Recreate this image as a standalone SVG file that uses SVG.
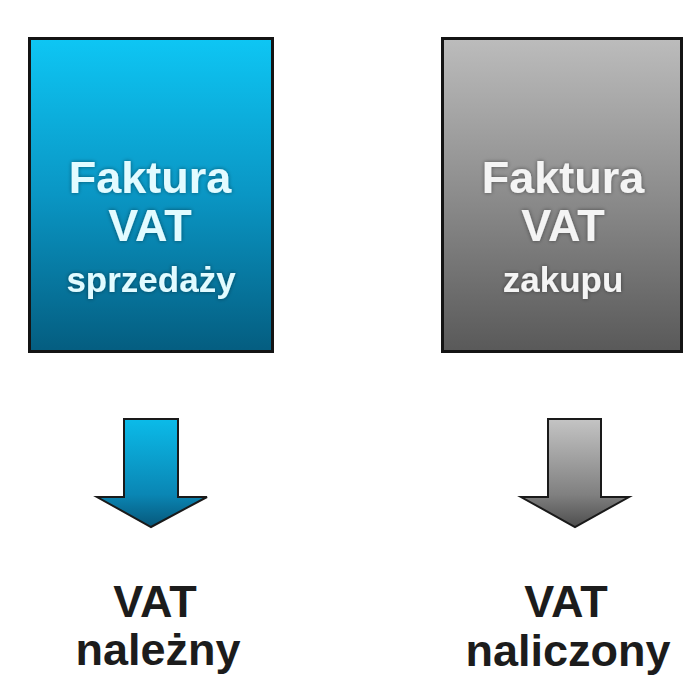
<svg xmlns="http://www.w3.org/2000/svg" width="683" height="677" viewBox="0 0 683 677">
<defs>
<linearGradient id="gBlue" x1="0" y1="0" x2="0" y2="1">
<stop offset="0" stop-color="#0ec6f4"/>
<stop offset="0.5" stop-color="#0a96c4"/>
<stop offset="1" stop-color="#045d80"/>
</linearGradient>
<linearGradient id="gGray" x1="0" y1="0" x2="0" y2="1">
<stop offset="0" stop-color="#bcbcbc"/>
<stop offset="0.5" stop-color="#8c8c8c"/>
<stop offset="1" stop-color="#595959"/>
</linearGradient>
<linearGradient id="gBlueArrow" x1="0" y1="0" x2="0" y2="1">
<stop offset="0" stop-color="#0bbbe9"/>
<stop offset="0.7" stop-color="#0a86b4"/>
<stop offset="1" stop-color="#07577a"/>
</linearGradient>
<linearGradient id="gGrayArrow" x1="0" y1="0" x2="0" y2="1">
<stop offset="0" stop-color="#c4c4c4"/>
<stop offset="0.7" stop-color="#808080"/>
<stop offset="1" stop-color="#4e4e4e"/>
</linearGradient>
<filter id="glow" x="-10%" y="-20%" width="120%" height="140%">
<feGaussianBlur in="SourceAlpha" stdDeviation="2"/>
<feComponentTransfer><feFuncA type="linear" slope="0.45"/></feComponentTransfer>
<feMerge><feMergeNode/><feMergeNode in="SourceGraphic"/></feMerge>
</filter>
</defs>
<style>
.box{stroke:#141414;stroke-width:3}
.arrow{stroke:#1a1a1a;stroke-width:2;stroke-linejoin:miter}
.t{font-family:"Liberation Sans",Arial,sans-serif;font-weight:bold;text-anchor:middle}
.big{font-size:45px}
.small{font-size:35px}
.lb{fill:#e2fbff}
.lg{fill:#f4f4f4}
.dark{fill:#1c1c1c;font-size:45px}
</style>
<rect width="683" height="677" fill="#ffffff"/>
<g id="faktura-sprzedazy">
<rect class="box" x="29.5" y="38.5" width="243" height="313" fill="url(#gBlue)"/>
<g filter="url(#glow)">
<text class="t big lb" x="150" y="193">Faktura</text>
<text class="t big lb" x="150" y="241">VAT</text>
<text class="t small lb" x="151" y="292">sprzedaży</text>
</g>
</g>
<g id="faktura-zakupu">
<rect class="box" x="442.5" y="38.5" width="239" height="313" fill="url(#gGray)"/>
<g filter="url(#glow)">
<text class="t big lg" x="563" y="193">Faktura</text>
<text class="t big lg" x="563" y="241">VAT</text>
<text class="t small lg" x="563" y="292">zakupu</text>
</g>
</g>
<g id="connectors">
<polygon class="arrow" points="124,419 178,419 178,497 207,497 151,527 97,497 124,497" fill="url(#gBlueArrow)"/>
<polygon class="arrow" points="548,419 601,419 601,497 629,497 575,527 521,497 548,497" fill="url(#gGrayArrow)"/>
</g>
<g id="vat-nalezny">
<text class="t dark" x="155" y="617">VAT</text>
<text class="t dark" x="158" y="665">należny</text>
</g>
<g id="vat-naliczony">
<text class="t dark" x="566" y="617">VAT</text>
<text class="t dark" x="568" y="666">naliczony</text>
</g>
</svg>
